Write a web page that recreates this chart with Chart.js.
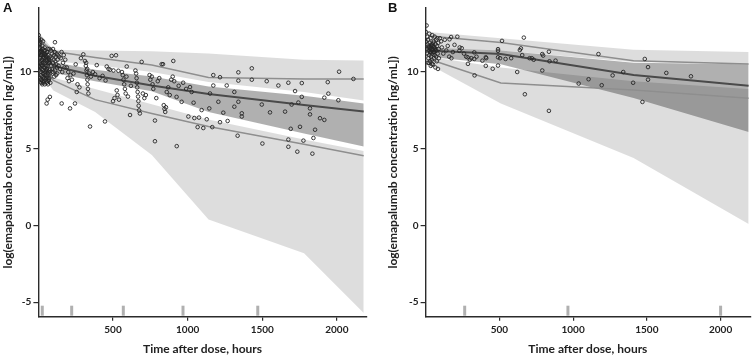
<!DOCTYPE html>
<html>
<head>
<meta charset="utf-8">
<script src="https://cdn.jsdelivr.net/npm/chart.js@4.4.1/dist/chart.umd.min.js"></script>
<style>
    body { margin: 0; background: #fff; width: 755px; height: 355px; overflow: hidden; position: relative; }
    .panel { position: absolute; top: 0; height: 355px; }
    #panel-a { left: 0; width: 377px; }
    #panel-b { left: 377px; width: 378px; }
    .tag { position: absolute; top: 0; font: bold 13px "Liberation Sans", Arial, sans-serif; color: #111; }
</style>
</head>
<body>
<div class="panel" id="panel-a"><canvas id="chart-a" width="377" height="355"></canvas></div>
<div class="panel" id="panel-b"><canvas id="chart-b" width="378" height="355"></canvas></div>
<div class="tag" style="left:3px">A</div>
<div class="tag" style="left:388px">B</div>
<script>
// axes
const xTicks = [500, 1000, 1500, 2000];
const yTicks = [-5, 0, 5, 10];

// panel A - bin times, observed percentiles, simulated CI bands
const binTimesA = [10, 100, 380, 760, 1140, 1780, 2180];
const obsHighA = [12.1, 11.35, 10.95, 10.45, 9.65, 9.55, 9.55];
const obsMedA = [11.5, 10.4, 9.76, 9.12, 8.57, 7.85, 7.42];
const obsLowA = [10.8, 9.45, 8.2, 7.3, 6.45, 5.3, 4.55];
const ciHighHiA = [12.5, 11.45, 11.4, 11.35, 11.2, 10.8, 10.75];
const ciHighLoA = [11.6, 10.7, 10.45, 10.0, 9.35, 8.7, 8.15];
const ciMedHiA = [11.8, 10.65, 10.15, 9.7, 9.05, 8.45, 7.95];
const ciMedLoA = [11.0, 9.95, 9.4, 8.75, 7.4, 6.0, 5.15];
const ciLowHiA = [10.9, 9.65, 8.9, 7.9, 6.9, 5.6, 4.85];
const ciLowLoA = [10.0, 8.8, 7.4, 4.6, 0.4, -1.8, -5.7];
const rugA = [26, 223, 569, 969, 1470];

const obsA = [
    [2,12.4],[3,12.1],[4,11.8],[5,12.2],[6,11.5],[7,11.9],[8,11.2],[9,11.6],[10,10.9],[11,11.3],
    [12,10.6],[13,11.0],[14,10.3],[15,10.7],[16,10.0],[17,11.4],[18,9.8],[19,10.5],[20,9.5],[21,11.1],
    [22,10.2],[23,9.7],[24,10.8],[25,9.4],[26,10.4],[27,11.7],[28,9.9],[29,10.1],[30,11.5],[31,12.0],
    [32,9.3],[33,11.0],[34,10.6],[35,9.9],[36,11.2],[37,10.3],[38,9.6],[40,10.9],[41,11.6],[42,9.2],
    [43,11.1],[44,10.3],[45,10.0],[46,11.4],[47,9.5],[48,9.8],[50,10.1],[52,11.0],[53,9.6],[54,9.4],
    [55,10.2],[56,10.7],[57,9.3],[58,11.3],[60,9.7],[62,10.4],[63,9.9],[64,9.2],[65,10.5],[66,11.1],
    [67,9.4],[68,10.0],[70,9.5],[72,10.8],[73,9.6],[74,11.5],[75,10.6],[76,9.9],[77,11.0],[78,10.2],
    [80,9.3],[86,11.4],[88,10.9],[90,10.2],[92,11.2],[94,9.9],[96,10.6],[98,11.5],[100,10.0],[102,10.8],
    [104,11.1],[106,9.7],[108,10.4],[110,11.3],[112,10.1],[114,10.7],[116,11.0],[118,9.8],[120,10.5],[122,11.2],
    [124,10.3],[126,9.9],[128,10.8],[130,11.1],[135,10.4],[140,11.0],[145,10.2],[150,10.9],[155,11.3],[160,10.0],
    [165,10.6],[170,11.1],[175,10.3],[180,10.8],
    [4,10.4],[6,10.1],[9,9.6],[12,11.8],[16,11.1],[19,9.3],[23,11.3],[27,10.6],[31,10.9],[34,9.7],
    [38,11.4],[42,10.7],[46,10.6],[50,11.2],[54,10.8],[58,10.1],[62,11.5],[66,9.6],[70,10.6],[74,10.1],
    [2,11.2],[8,10.3],[14,9.5],[20,12.1],[26,9.2],[36,9.4],[44,9.9],[52,10.4],[60,11.3],[68,10.9],
    [55,7.95],[77,8.38],[62,8.2],[111,11.94],[156,7.95],[212,7.63],[245,7.95],[257,8.7],
    [190,10.3],[195,9.6],[200,10.0],[205,9.4],[215,9.8],[225,9.5],[235,9.9],[250,10.5],[262,9.2],[275,9.0],
    [285,10.9],[301,11.15],[312,10.72],[318,10.4],[322,10.1],[325,9.8],[328,9.5],[330,9.2],[332,8.9],[335,8.6],
    [320,10.6],[327,10.2],[340,9.9],[346,6.45],[352,9.7],[365,10.0],[380,9.85],[391,10.45],[410,9.6],[430,9.75],
    [446,6.78],[450,9.45],[458,10.36],[470,10.2],[480,10.15],[491,11.05],[500,8.1],[503,10.1],[510,8.3],[520,11.09],
    [525,8.8],[530,8.5],[536,10.08],[540,8.2],[560,10.0],[565,9.8],[570,9.5],[575,9.2],[580,8.9],[585,8.6],
    [590,9.7],[592,10.36],[600,8.4],[614,7.2],[620,9.1],[650,10.1],[655,9.9],[658,9.6],[660,9.3],[662,9.0],
    [665,8.7],[668,8.4],[670,8.1],[672,7.8],[675,7.5],[680,7.3],[692,10.66],[700,8.6],[710,8.3],[720,8.5],
    [745,9.8],[750,9.5],[760,9.7],[765,9.2],[770,8.9],[781,5.49],[781,6.84],[790,8.3],[800,9.4],[810,9.6],
    [826,10.51],[835,10.51],[840,7.84],[845,7.6],[850,7.4],[855,7.7],[860,8.7],[870,9.0],[880,8.5],[890,9.5],
    [900,9.7],[904,10.72],[910,9.4],[926,8.38],[927,5.17],[940,9.1],[960,8.06],[970,9.3],[990,8.9],
    [1005,7.1],[1016,9.02],[1027,8.7],[1040,8.0],[1045,7.0],[1067,6.41],[1076,7.03],[1094,7.52],[1105,6.35],[1128,6.92],
    [1145,7.63],[1150,8.6],[1165,6.41],[1172,9.12],[1172,9.8],[1206,8.06],[1217,9.66],[1217,6.73],[1239,7.35],[1262,9.12],
    [1268,6.81],[1313,8.7],[1313,7.74],[1335,5.85],[1340,9.98],[1340,9.44],[1340,8.06],[1363,7.31],[1363,7.1],[1430,10.24],
    [1430,9.5],[1497,7.88],[1501,5.34],[1530,9.4],[1552,7.37],[1608,9.12],[1653,7.42],[1675,9.3],[1675,5.6],[1675,5.13],
    [1691,6.3],[1697,7.88],[1720,8.76],[1735,4.81],[1742,8.01],[1753,6.43],[1765,9.28],[1765,8.38],[1776,5.53],[1820,7.63],
    [1820,7.24],[1836,4.68],[1843,5.7],[1854,6.24],[1887,6.99],[1916,6.88],[1916,8.33],[1939,9.34],[1943,8.59],[2010,8.16],
    [2015,10.02],[2111,9.55]
];

// panel B
const binTimesB = [20, 510, 1410, 2190];
const obsHighB = [12.35, 11.92, 10.74, 10.53];
const obsMedB = [11.4, 11.17, 9.8, 9.1];
const obsLowB = [10.85, 9.29, 8.83, 8.29];
const ciHighHiB = [12.6, 12.2, 11.45, 11.3];
const ciHighLoB = [11.6, 11.4, 10.65, 10.5];
const ciMedHiB = [11.6, 11.4, 10.6, 10.5];
const ciMedLoB = [11.0, 10.5, 8.3, 6.1];
const ciLowHiB = [11.0, 10.3, 9.4, 8.9];
const ciLowLoB = [10.5, 7.95, 4.4, 0.1];
const rugB = [265, 965, 2000];

const obsB = [
    [3,12.6],[5,12.0],[7,13.03],[8,11.5],[10,12.3],[12,11.2],[14,11.8],[15,10.6],[17,12.1],[18,11.6],
    [19,11.4],[20,10.9],[22,11.7],[23,10.6],[24,11.1],[25,12.5],[26,11.6],[27,11.9],[28,11.4],[29,10.7],
    [30,11.3],[32,11.6],[34,12.2],[35,10.4],[36,11.3],[37,11.0],[38,11.7],[39,11.5],[40,11.8],[42,10.8],
    [43,10.5],[44,11.4],[45,12.4],[46,11.8],[47,11.2],[48,11.5],[49,11.7],[50,10.5],[52,11.9],[54,11.3],
    [55,12.0],[56,11.6],[57,10.9],[58,11.3],[59,11.6],[60,11.1],[62,12.3],[64,11.5],[66,10.3],[66,11.4],
    [68,11.8],[70,11.0],[72,12.1],[74,11.4],[76,10.7],[78,11.7],[80,12.2],[82,11.2],[84,10.2],[86,11.9],
    [88,11.5],[90,10.9],[97,12.2],[105,12.0],[110,11.6],[120,11.2],[130,12.1],[140,11.4],[150,11.7],[160,11.0],
    [162,12.13],[173,12.28],[175,10.9],[185,11.3],[196,11.77],[215,12.3],[229,11.38],[231,11.6],[245,11.55],[260,11.2],
    [275,11.0],[285,10.96],[287,10.53],[300,10.8],[310,10.9],[330,11.28],[330,10.85],[332,9.78],[345,11.0],[385,10.74],
    [408,10.96],[408,10.4],[411,10.9],[455,10.21],[491,11.38],[491,11.49],[491,10.96],[491,10.42],[505,10.9],[518,12.03],
    [542,10.85],[580,10.9],[621,10.0],[639,11.43],[646,11.54],[655,11.1],[666,12.24],[673,8.55],[705,10.9],[720,10.9],
    [733,10.8],[791,11.17],[791,10.1],[797,11.07],[836,11.32],[836,7.47],[840,10.7],[881,10.74],[1038,9.25],[1105,9.53],
    [1172,11.17],[1194,9.14],[1268,9.78],[1340,10.0],[1407,9.3],[1470,8.05],[1486,10.85],[1508,10.32],[1508,9.5],[1632,9.94],
    [1799,9.72]
];

const lightBand = 'rgba(0,0,0,0.135)';
const darkBand = 'rgba(0,0,0,0.31)';
const axisColor = '#2b2b2b';

const rugPlugin = {
    id: 'rug',
    afterDatasetsDraw(chart, args, opts) {
        const { ctx, chartArea, scales } = chart;
        ctx.save();
        ctx.strokeStyle = '#b0b0b0';
        ctx.lineWidth = 3;
        opts.times.forEach(t => {
            const x = scales.x.getPixelForValue(t);
            ctx.beginPath();
            ctx.moveTo(x, chartArea.bottom - 1);
            ctx.lineTo(x, chartArea.bottom - 11);
            ctx.stroke();
        });
        ctx.restore();
    }
};

function toPoints(times, values) {
    return times.map((t, i) => ({ x: t, y: values[i] }));
}

function band(times, hi, lo, color) {
    return [
        { type: 'line', data: toPoints(times, hi), borderColor: 'rgba(0,0,0,0)', borderWidth: 0, pointRadius: 0, fill: '+1', backgroundColor: color, order: 3 },
        { type: 'line', data: toPoints(times, lo), borderColor: 'rgba(0,0,0,0)', borderWidth: 0, pointRadius: 0, fill: false, order: 3 }
    ];
}

function line(times, values, color, width) {
    return { type: 'line', data: toPoints(times, values), borderColor: color, borderWidth: width, pointRadius: 0, fill: false, tension: 0, order: 2 };
}

function makePanel(canvasId, p) {
    const tickFont = { family: 'Lato', size: 10, weight: 'bold' };
    const titleFont = { family: 'Lato', size: 12, weight: 'bold', lineHeight: 1 };
    return new Chart(document.getElementById(canvasId), {
        type: 'line',
        data: {
            datasets: [
                {
                    type: 'scatter',
                    data: p.obs.map(d => ({ x: d[0], y: d[1] })),
                    pointRadius: 1.8,
                    pointBorderWidth: 0.9,
                    borderColor: '#262626',
                    backgroundColor: 'rgba(0,0,0,0)',
                    order: 1
                },
                line(p.times, p.high, '#8e8e8e', 1.5),
                line(p.times, p.med, '#4a4a4a', 2),
                line(p.times, p.low, '#8e8e8e', 1.5),
                ...band(p.times, p.ciHighHi, p.ciHighLo, lightBand),
                ...band(p.times, p.ciMedHi, p.ciMedLo, darkBand),
                ...band(p.times, p.ciLowHi, p.ciLowLo, lightBand)
            ]
        },
        options: {
            responsive: false,
            animation: false,
            layout: { padding: { left: 0, top: 3, right: p.padRight, bottom: 0 } },
            plugins: { legend: { display: false }, tooltip: { enabled: false }, rug: { times: p.rug } },
            scales: {
                x: {
                    type: 'linear',
                    min: 0,
                    max: 2200,
                    afterBuildTicks: s => { s.ticks = xTicks.map(v => ({ value: v })); },
                    afterFit: s => { s.height = 38.3; },
                    grid: { display: true, drawOnChartArea: false, drawTicks: true, tickLength: 4, color: axisColor, lineWidth: 1.2 },
                    border: { display: true, color: axisColor, width: 1.4 },
                    ticks: { font: tickFont, color: '#222', padding: 3, maxRotation: 0, callback: v => String(v) },
                    title: { display: true, text: 'Time after dose, hours', font: titleFont, color: '#222', padding: { top: 0, bottom: 0 } }
                },
                y: {
                    type: 'linear',
                    min: -5.94,
                    max: 14.17,
                    afterBuildTicks: s => { s.ticks = yTicks.map(v => ({ value: v })); },
                    afterFit: s => { s.width = p.yWidth; },
                    grid: { display: true, drawOnChartArea: false, drawTicks: true, tickLength: 5, color: axisColor, lineWidth: 1.2 },
                    border: { display: true, color: axisColor, width: 1.4 },
                    ticks: { font: tickFont, color: '#222', padding: 2, callback: v => String(v) },
                    title: { display: true, text: 'log(emapalumab concentration [ng/mL])', font: titleFont, color: '#222', padding: { top: p.yTitlePad, bottom: 0 } }
                }
            }
        },
        plugins: [rugPlugin]
    });
}

makePanel('chart-a', {
    obs: obsA, times: binTimesA, high: obsHighA, med: obsMedA, low: obsLowA,
    ciHighHi: ciHighHiA, ciHighLo: ciHighLoA, ciMedHi: ciMedHiA, ciMedLo: ciMedLoA, ciLowHi: ciLowHiA, ciLowLo: ciLowLoA,
    rug: rugA, yWidth: 38.4, padRight: 10.3, yTitlePad: 2.5
});

makePanel('chart-b', {
    obs: obsB, times: binTimesB, high: obsHighB, med: obsMedB, low: obsLowB,
    ciHighHi: ciHighHiB, ciHighLo: ciHighLoB, ciMedHi: ciMedHiB, ciMedLo: ciMedLoB, ciLowHi: ciLowHiB, ciLowLo: ciLowLoB,
    rug: rugB, yWidth: 48.6, padRight: 1.7, yTitlePad: 10
});
</script>
</body>
</html>
